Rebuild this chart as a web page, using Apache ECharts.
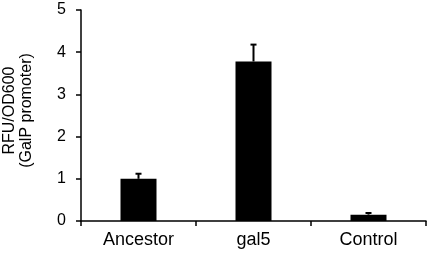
<!DOCTYPE html>
<html>
<head>
    <meta charset="utf-8">
    <title>RFU/OD600</title>
    <script src="https://cdn.jsdelivr.net/npm/echarts@6/dist/echarts.min.js"></script>
</head>
<body style="margin:0">
<div id="chart" style="width: 429px; height: 254px;"></div>
<script>
    // data
    var categories = ['Ancestor', 'gal5', 'Control'];
    var means = [1.0, 3.78, 0.15];
    var errors = [0.12, 0.4, 0.04];

    var chart = echarts.init(document.getElementById('chart'));
    var font = 'Liberation Sans, Arial, sans-serif';

    var errData = categories.map(function (c, i) {
        return [i, means[i], means[i] + errors[i]];
    });

    var option = {
        animation: false,
        grid: { left: 81, right: 3, top: 10, bottom: 33, outerBoundsMode: 'none' },
        xAxis: {
            type: 'category',
            data: categories,
            axisLine: { lineStyle: { color: '#000', width: 1.5 } },
            axisTick: { show: true, length: 5, lineStyle: { color: '#000', width: 1.5 } },
            axisLabel: { color: '#000', fontSize: 18, fontFamily: font, margin: 10 }
        },
        yAxis: {
            type: 'value',
            min: 0,
            max: 5,
            interval: 1,
            name: 'RFU/OD600\n(GalP promoter)',
            nameLocation: 'middle',
            nameRotate: 90,
            nameGap: 46,
            nameTextStyle: { color: '#000', fontSize: 16, fontFamily: font, lineHeight: 17, padding: [0, 0, 0, 10] },
            axisLine: { show: true, lineStyle: { color: '#000', width: 1.5 } },
            axisTick: { show: true, length: 5, lineStyle: { color: '#000', width: 1.5 } },
            splitLine: { show: false },
            axisLabel: { color: '#000', fontSize: 16, fontFamily: font, margin: 15 }
        },
        series: [
            {
                type: 'bar',
                data: means,
                barWidth: 36,
                itemStyle: { color: '#000' }
            },
            {
                type: 'custom',
                data: errData,
                z: 1,
                renderItem: function (params, api) {
                    var x = api.value(0);
                    var lo = api.coord([x, api.value(1)]);
                    var hi = api.coord([x, api.value(2)]);
                    var s = { stroke: '#000', lineWidth: 2 };
                    return {
                        type: 'group',
                        children: [
                            { type: 'line', shape: { x1: lo[0], y1: lo[1], x2: hi[0], y2: hi[1] }, style: s },
                            { type: 'line', shape: { x1: hi[0] - 3, y1: hi[1], x2: hi[0] + 3, y2: hi[1] }, style: s }
                        ]
                    };
                }
            }
        ]
    };
    chart.setOption(option);
</script>
</body>
</html>
